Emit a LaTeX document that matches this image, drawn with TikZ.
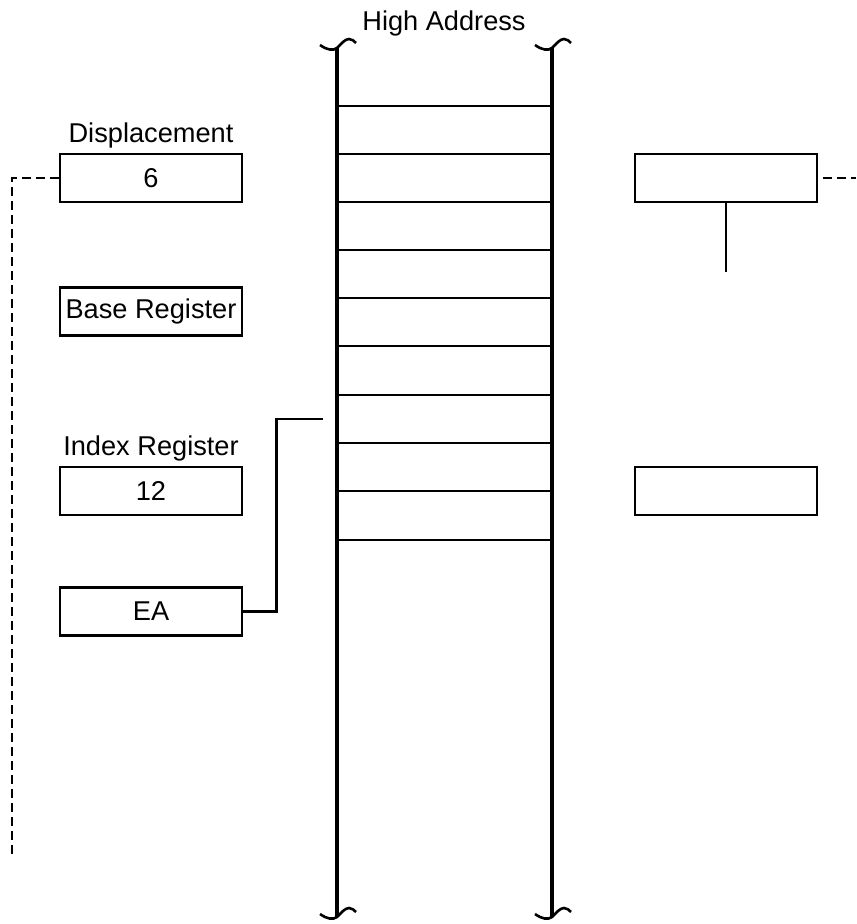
\documentclass[tikz,border=0pt]{standalone}
\usepackage{fontspec}
\setmainfont{Liberation Sans}
\usetikzlibrary{positioning}
\tikzset{
  regbox/.style={rectangle, draw, line width=1.4pt, minimum width=91pt,
    minimum height=24pt, inner sep=0pt, font=\fontsize{13.6}{16}\selectfont},
  captext/.style={font=\fontsize{13.6}{16}\selectfont, inner sep=1pt},
  wire/.style={line width=1.4pt},
  dashwire/.style={line width=1.4pt, dash pattern=on 4.5pt off 2.5pt},
  rail/.style={line width=1.6pt},
  slot/.style={line width=1.1pt},
  squig/.style={line width=1.3pt}
}
\begin{document}
\begin{tikzpicture}[x=0.5pt, y=-0.5pt]
  \useasboundingbox (0,0) rectangle (856,924);
  % memory stack
  \node[captext] (high) at (444,23) {High Address};
  \foreach \rx in {337,552} {
    \draw[rail] (\rx,48) -- (\rx,917);
    \draw[squig] (\rx-17,45) .. controls (\rx-10,50) and (\rx-4,51) .. (\rx,48)
      .. controls (\rx+4,44) and (\rx+8,39) .. (\rx+12,39)
      .. controls (\rx+15,39) and (\rx+17,41) .. (\rx+19,43);
    \draw[squig] (\rx-17,914) .. controls (\rx-10,919) and (\rx-4,920) .. (\rx,917)
      .. controls (\rx+4,913) and (\rx+8,908) .. (\rx+12,908)
      .. controls (\rx+15,908) and (\rx+17,910) .. (\rx+19,912);
  }
  \foreach \sy in {106,154,202,250,298,346,395,443,491,540}
    \draw[slot] (337,\sy) -- (552,\sy);
  % registers
  \node[regbox] (disp)  at (151,178)   {6};
  \node[regbox] (base)  at (151,311.5) {Base Register};
  \node[regbox] (index) at (151,491)   {12};
  \node[regbox] (ea)    at (151,611.5) {EA};
  \node[regbox] (rtop)  at (726,178)   {};
  \node[regbox] (rbot)  at (726,491)   {};
  \node[captext, above=1pt of disp]  (displbl)  {Displacement};
  \node[captext, above=1pt of index] (indexlbl) {Index Register};
  % connectors
  \coordinate (dend) at (12,855);
  \coordinate (rend) at (856,178);
  \coordinate (rtap) at (726,272);
  \coordinate (eaup) at (323,419);
  \draw[dashwire] (disp.west) -| (dend);
  \draw[dashwire] ([xshift=2.5pt]rtop.east) -- (rend);
  \draw[wire] (rtop.south) -- (rtap);
  \draw[wire] (ea.east) -- ++(33,0) |- (eaup);
\end{tikzpicture}
\end{document}
